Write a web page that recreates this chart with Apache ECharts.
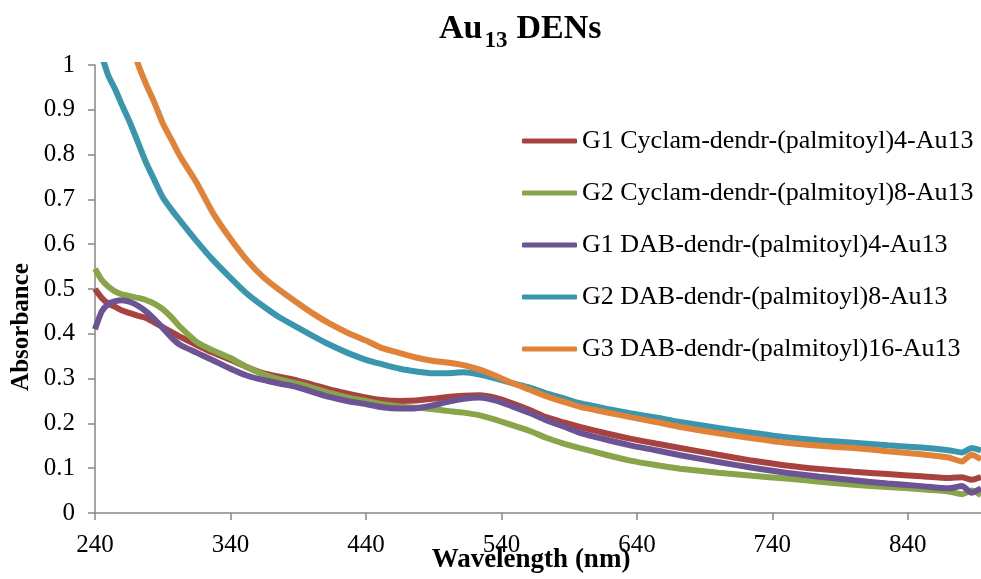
<!DOCTYPE html>
<html>
<head>
<meta charset="utf-8">
<script src="https://cdn.jsdelivr.net/npm/echarts@6/dist/echarts.min.js"></script>
<style>
    html, body { margin: 0; padding: 0; background: #fff; }
    #chart { width: 981px; height: 579px; }
</style>
</head>
<body>
<div id="chart"></div>
<script>
// 波长 (nm)
var wavelength = [240, 245, 250, 255, 260, 266, 272, 278, 284, 290, 297, 303, 315, 327, 340, 352, 364, 376, 389, 401,
    413, 426, 440, 452, 465, 477, 489, 500, 512, 524, 536, 548, 561, 573, 586, 598, 617, 635, 654, 672,
    700, 725, 750, 775, 800, 825, 850, 870, 880, 887, 894];

var seriesNames = [
    "G1 Cyclam-dendr-(palmitoyl)4-Au13",
    "G2 Cyclam-dendr-(palmitoyl)8-Au13",
    "G1 DAB-dendr-(palmitoyl)4-Au13",
    "G2 DAB-dendr-(palmitoyl)8-Au13",
    "G3 DAB-dendr-(palmitoyl)16-Au13"
];

var g1Cyclam = [0.50, 0.48, 0.467, 0.46, 0.452, 0.446, 0.44, 0.435, 0.425, 0.415, 0.403, 0.393, 0.375, 0.358, 0.342, 0.326, 0.312, 0.304, 0.296, 0.286,
    0.276, 0.267, 0.258, 0.252, 0.25, 0.251, 0.255, 0.259, 0.262, 0.263, 0.257, 0.245, 0.23, 0.214, 0.202, 0.192, 0.178, 0.166, 0.155, 0.145,
    0.13, 0.117, 0.106, 0.098, 0.092, 0.087, 0.082, 0.078, 0.08, 0.074, 0.08];

var g2Cyclam = [0.545, 0.52, 0.505, 0.494, 0.488, 0.484, 0.48, 0.475, 0.467, 0.455, 0.435, 0.415, 0.382, 0.363, 0.346, 0.326, 0.31, 0.298, 0.289, 0.279,
    0.268, 0.258, 0.25, 0.243, 0.238, 0.235, 0.232, 0.228, 0.224, 0.218, 0.208, 0.196, 0.183, 0.168, 0.155, 0.145, 0.13, 0.117, 0.107, 0.099,
    0.09, 0.083, 0.077, 0.07, 0.063, 0.058, 0.053, 0.048, 0.042, 0.05, 0.04];

var g1Dab = [0.41, 0.45, 0.467, 0.473, 0.475, 0.471, 0.462, 0.449, 0.432, 0.413, 0.39, 0.375, 0.358, 0.341, 0.322, 0.307, 0.297, 0.289, 0.281, 0.27,
    0.259, 0.25, 0.243, 0.236, 0.233, 0.234, 0.24, 0.248, 0.255, 0.258, 0.251, 0.238, 0.223, 0.207, 0.193, 0.179, 0.164, 0.151, 0.14, 0.129,
    0.114, 0.101, 0.09, 0.081, 0.073, 0.066, 0.06, 0.055, 0.06, 0.045, 0.055];

var g2Dab = [1.06, 1.02, 0.975, 0.945, 0.91, 0.87, 0.825, 0.78, 0.742, 0.705, 0.675, 0.652, 0.607, 0.565, 0.525, 0.49, 0.462, 0.437, 0.415, 0.395,
    0.376, 0.358, 0.342, 0.332, 0.322, 0.316, 0.312, 0.312, 0.314, 0.309, 0.3, 0.29, 0.28, 0.267, 0.256, 0.245, 0.233, 0.223, 0.213, 0.203,
    0.19, 0.179, 0.169, 0.162, 0.157, 0.151, 0.146, 0.14, 0.135, 0.145, 0.14];

var g3Dab = [1.4, 1.33, 1.25, 1.18, 1.12, 1.06, 1.0, 0.955, 0.915, 0.87, 0.83, 0.795, 0.737, 0.67, 0.612, 0.565, 0.527, 0.498, 0.47, 0.445,
    0.423, 0.403, 0.385, 0.368, 0.357, 0.347, 0.34, 0.336, 0.33, 0.32, 0.306, 0.29, 0.275, 0.261, 0.248, 0.237, 0.225, 0.214, 0.203, 0.192,
    0.178, 0.167, 0.157, 0.15, 0.145, 0.138, 0.131, 0.124, 0.115, 0.13, 0.12];

var colors = ["#A8423F", "#88A54A", "#6B5394", "#3A96AE", "#E08237"];
var allData = [g1Cyclam, g2Cyclam, g1Dab, g2Dab, g3Dab];
var font = "'Liberation Serif', 'Times New Roman', serif";

var myChart = echarts.init(document.getElementById("chart"));

var seriesArr = [];
allData.forEach(function (vals, k) {
    seriesArr.push({
        name: seriesNames[k],
        type: "line",
        showSymbol: false,
        smooth: 0.2,
        clip: true,
        data: wavelength.map(function (w, i) { return [w, vals[i]]; }),
        lineStyle: { width: 6, color: colors[k] },
        itemStyle: { color: colors[k] }
    });
});

var option = {
    animation: false,
    title: {
        text: "{a|Au}{b|13}{a|DENs}",
        left: 434,
        top: 7,
        textStyle: {
            rich: {
                a: { fontFamily: font, fontWeight: "bold", fontSize: 34, color: "#000", lineHeight: 41, verticalAlign: "top" },
                b: { fontFamily: font, fontWeight: "bold", fontSize: 23, color: "#000", lineHeight: 41, verticalAlign: "bottom", padding: [0, 9, 0, 2] }
            }
        }
    },
    grid: {
        left: 95,
        right: 0,
        top: 65,
        bottom: 66,
        outerBoundsMode: "none",
        containLabel: false
    },
    legend: {
        orient: "vertical",
        left: 517,
        top: 123,
        itemWidth: 55,
        itemHeight: 5,
        itemGap: 26,
        icon: "roundRect",
        textStyle: { fontFamily: font, fontSize: 26, color: "#000", lineHeight: 26 },
        data: seriesNames
    },
    xAxis: {
        type: "value",
        min: 240,
        max: 894,
        interval: 100,
        name: "Wavelength (nm)",
        nameLocation: "middle",
        nameGap: 34,
        nameMoveOverlap: false,
        nameTextStyle: { fontFamily: font, fontWeight: "bold", fontSize: 27, color: "#000", padding: [0, 14, 0, 0] },
        axisLine: { lineStyle: { color: "#868686", width: 1.5 } },
        axisTick: { show: true, length: 7, lineStyle: { color: "#868686", width: 1.5 } },
        axisLabel: { fontFamily: font, fontSize: 25, color: "#000", margin: 20, showMaxLabel: false },
        splitLine: { show: false }
    },
    yAxis: {
        type: "value",
        min: 0,
        max: 1,
        interval: 0.1,
        axisLine: { show: true, lineStyle: { color: "#868686", width: 1.5 } },
        axisTick: { show: true, length: 7, lineStyle: { color: "#868686", width: 1.5 } },
        axisLabel: { fontFamily: font, fontSize: 25, color: "#000", margin: 20 },
        splitLine: { show: false }
    },
    graphic: [{
        type: "text",
        x: 22,
        y: 327,
        rotation: Math.PI / 2,
        style: {
            text: "Absorbance",
            fontFamily: font,
            fontWeight: "bold",
            fontSize: 25,
            fill: "#000",
            textAlign: "center",
            textVerticalAlign: "middle"
        }
    }],
    series: seriesArr
};

myChart.setOption(option);
</script>
</body>
</html>
